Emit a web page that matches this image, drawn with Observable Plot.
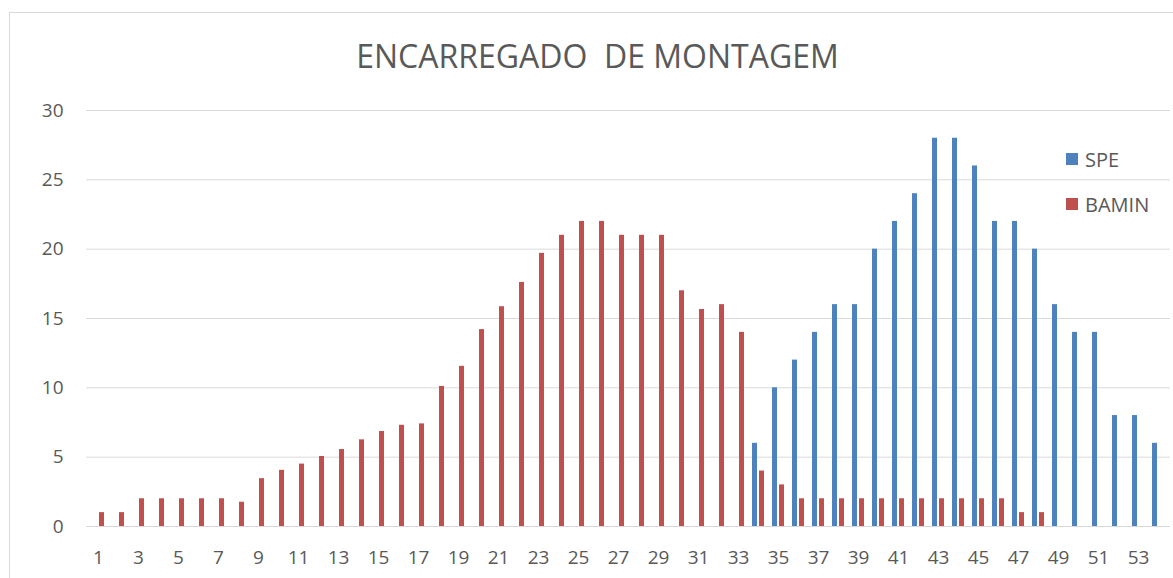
<!DOCTYPE html>
<html>
<head>
<meta charset="utf-8">
<script src="https://cdn.jsdelivr.net/npm/d3@7"></script>
<script src="https://cdn.jsdelivr.net/npm/@observablehq/plot@0.6"></script>
<style>
  html, body { margin: 0; padding: 0; background: #fff; overflow: hidden; }
  #wrap { position: relative; width: 1173px; height: 578px; font-family: "Open Sans", sans-serif; color: #595959; }
  #frame { position: absolute; left: 9px; top: 12px; width: 1200px; height: 620px; border: 1px solid #d9d9d9; box-sizing: border-box; }
  #title { position: absolute; left: 0; top: 0; width: 1195px; height: 95px; text-align: center; }
  #title span { display: inline-block; font-size: 32px; line-height: 32px; margin-top: 40px; white-space: pre; }
  #chart { position: absolute; left: 0; top: 95px; }
  #legend { position: absolute; left: 1066px; top: 148px; font-size: 20px; }
  .item { display: flex; align-items: center; height: 22px; margin-bottom: 23px; }
  .sw { width: 12px; height: 12px; margin-right: 7px; }
</style>
</head>
<body>
<div id="wrap">
  <div id="frame"></div>
  <div id="title"><span id="tt"></span></div>
  <div id="chart"></div>
  <div id="legend"></div>
</div>
<script>
const titleText = "ENCARREGADO  DE MONTAGEM";
const seriesNames = ["SPE", "BAMIN"];
const seriesColors = ["#4f81bd", "#c0504d"];
const categories = [1,2,3,4,5,6,7,8,9,10,11,12,13,14,15,16,17,18,19,20,21,22,23,24,25,26,27,28,29,30,31,32,33,34,35,36,37,38,39,40,41,42,43,44,45,46,47,48,49,50,51,52,53,54];
const speValues = [0,0,0,0,0,0,0,0,0,0,0,0,0,0,0,0,0,0,0,0,0,0,0,0,0,0,0,0,0,0,0,0,0,6,10,12,14,16,16,20,22,24,28,28,26,22,22,20,16,14,14,8,8,6];
const baminValues = [1,1,2,2,2,2,2,1.75,3.45,4.05,4.5,5.05,5.55,6.25,6.85,7.3,7.4,10.1,11.55,14.2,15.85,17.6,19.7,21,22,22,21,21,21,17,15.65,16,14,4,3,2,2,2,2,2,2,2,2,2,2,2,1,1,0,0,0,0,0,0];
const xTickLabels = [1,3,5,7,9,11,13,15,17,19,21,23,25,27,29,31,33,35,37,39,41,43,45,47,49,51,53];
const yTickLabels = [0,5,10,15,20,25,30];

document.getElementById("tt").textContent = titleText;

const speData = categories.map((c, i) => ({cat: c, value: speValues[i]})).filter(d => d.value > 0);
const baminData = categories.map((c, i) => ({cat: c, value: baminValues[i]})).filter(d => d.value > 0);

const chart = Plot.plot({
  width: 1173,
  height: 483,
  marginTop: 15,
  marginBottom: 52,
  marginLeft: 86,
  marginRight: 3,
  style: {fontFamily: "Open Sans", fontSize: "19px", color: "#595959", background: "transparent", overflow: "visible"},
  x: {type: "band", domain: categories, paddingInner: 0.4, paddingOuter: 0.2, align: 0.5, label: null},
  y: {domain: [0, 30], label: null},
  marks: [
    Plot.gridY(yTickLabels, {stroke: "#d9d9d9", strokeOpacity: 1, strokeWidth: 1}),
    Plot.barY(speData, {x: "cat", y: "value", fill: seriesColors[0], insetRight: 7}),
    Plot.barY(baminData, {x: "cat", y: "value", fill: seriesColors[1], insetLeft: 7}),
    Plot.axisX({ticks: xTickLabels, tickSize: 0, tickPadding: 24, label: null, fill: "#595959"}),
    Plot.axisY({ticks: yTickLabels, tickSize: 0, tickPadding: 23, label: null, fill: "#595959"})
  ]
});
document.getElementById("chart").appendChild(chart);

const legend = document.getElementById("legend");
seriesNames.forEach((name, i) => {
  const item = document.createElement("div");
  item.className = "item";
  const sw = document.createElement("div");
  sw.className = "sw";
  sw.style.background = seriesColors[i];
  const label = document.createElement("span");
  label.textContent = name;
  item.appendChild(sw);
  item.appendChild(label);
  legend.appendChild(item);
});
</script>
</body>
</html>
